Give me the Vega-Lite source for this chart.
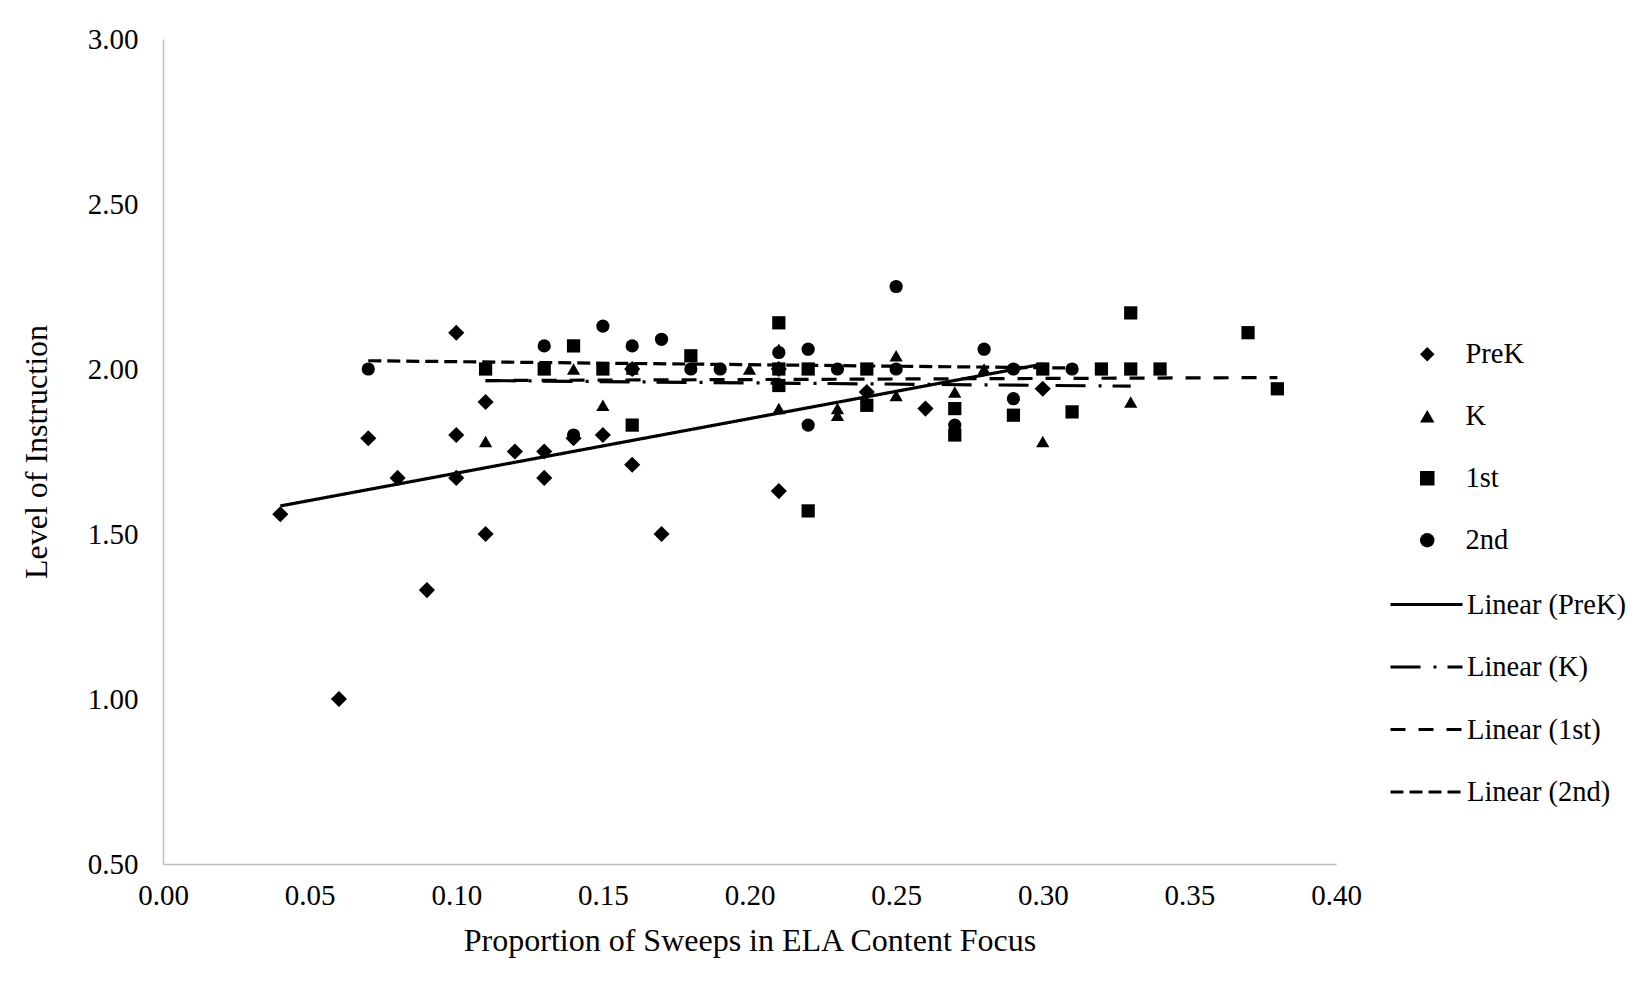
{
  "$schema": "https://vega.github.io/schema/vega-lite/v6.json",
  "width": 1173,
  "height": 825,
  "autosize": "none",
  "padding": {"left": 163, "top": 39, "right": 312, "bottom": 122},
  "background": "white",
  "config": {
    "view": {"stroke": null},
    "font": "Liberation Serif",
    "axis": {"grid": false, "ticks": false, "domainColor": "#BFBFBF", "domainWidth": 1.5, "labelFont": "Liberation Serif", "titleFont": "Liberation Serif", "labelColor": "black", "titleColor": "black", "labelFontSize": 29, "titleFontSize": 32, "titleFontWeight": "normal"}
  },
  "datasets": {
    "pts": [
      {"grade": "PreK", "x": 0.04, "y": 1.56},
      {"grade": "PreK", "x": 0.06, "y": 1.00},
      {"grade": "PreK", "x": 0.07, "y": 1.79},
      {"grade": "PreK", "x": 0.08, "y": 1.67},
      {"grade": "PreK", "x": 0.09, "y": 1.33},
      {"grade": "PreK", "x": 0.10, "y": 2.11},
      {"grade": "PreK", "x": 0.10, "y": 1.80},
      {"grade": "PreK", "x": 0.10, "y": 1.67},
      {"grade": "PreK", "x": 0.11, "y": 1.90},
      {"grade": "PreK", "x": 0.11, "y": 1.50},
      {"grade": "PreK", "x": 0.12, "y": 1.75},
      {"grade": "PreK", "x": 0.13, "y": 1.75},
      {"grade": "PreK", "x": 0.13, "y": 1.67},
      {"grade": "PreK", "x": 0.14, "y": 1.79},
      {"grade": "PreK", "x": 0.15, "y": 1.80},
      {"grade": "PreK", "x": 0.16, "y": 1.71},
      {"grade": "PreK", "x": 0.16, "y": 2.00},
      {"grade": "PreK", "x": 0.17, "y": 1.50},
      {"grade": "PreK", "x": 0.21, "y": 1.63},
      {"grade": "PreK", "x": 0.21, "y": 2.00},
      {"grade": "PreK", "x": 0.24, "y": 1.93},
      {"grade": "PreK", "x": 0.26, "y": 1.88},
      {"grade": "PreK", "x": 0.30, "y": 1.94},
      {"grade": "K", "x": 0.11, "y": 1.78},
      {"grade": "K", "x": 0.14, "y": 2.00},
      {"grade": "K", "x": 0.15, "y": 1.89},
      {"grade": "K", "x": 0.16, "y": 2.00},
      {"grade": "K", "x": 0.20, "y": 2.00},
      {"grade": "K", "x": 0.21, "y": 1.88},
      {"grade": "K", "x": 0.21, "y": 2.06},
      {"grade": "K", "x": 0.23, "y": 1.88},
      {"grade": "K", "x": 0.23, "y": 1.86},
      {"grade": "K", "x": 0.25, "y": 2.04},
      {"grade": "K", "x": 0.25, "y": 1.92},
      {"grade": "K", "x": 0.27, "y": 1.93},
      {"grade": "K", "x": 0.28, "y": 2.00},
      {"grade": "K", "x": 0.30, "y": 1.78},
      {"grade": "K", "x": 0.33, "y": 1.90},
      {"grade": "1st", "x": 0.11, "y": 2.00},
      {"grade": "1st", "x": 0.13, "y": 2.00},
      {"grade": "1st", "x": 0.14, "y": 2.07},
      {"grade": "1st", "x": 0.15, "y": 2.00},
      {"grade": "1st", "x": 0.16, "y": 1.83},
      {"grade": "1st", "x": 0.18, "y": 2.04},
      {"grade": "1st", "x": 0.21, "y": 2.14},
      {"grade": "1st", "x": 0.21, "y": 2.00},
      {"grade": "1st", "x": 0.21, "y": 1.95},
      {"grade": "1st", "x": 0.22, "y": 1.57},
      {"grade": "1st", "x": 0.22, "y": 2.00},
      {"grade": "1st", "x": 0.24, "y": 2.00},
      {"grade": "1st", "x": 0.24, "y": 1.89},
      {"grade": "1st", "x": 0.27, "y": 1.88},
      {"grade": "1st", "x": 0.27, "y": 1.80},
      {"grade": "1st", "x": 0.29, "y": 1.86},
      {"grade": "1st", "x": 0.30, "y": 2.00},
      {"grade": "1st", "x": 0.31, "y": 1.87},
      {"grade": "1st", "x": 0.32, "y": 2.00},
      {"grade": "1st", "x": 0.33, "y": 2.17},
      {"grade": "1st", "x": 0.33, "y": 2.00},
      {"grade": "1st", "x": 0.34, "y": 2.00},
      {"grade": "1st", "x": 0.37, "y": 2.11},
      {"grade": "1st", "x": 0.38, "y": 1.94},
      {"grade": "2nd", "x": 0.07, "y": 2.00},
      {"grade": "2nd", "x": 0.13, "y": 2.07},
      {"grade": "2nd", "x": 0.14, "y": 1.80},
      {"grade": "2nd", "x": 0.15, "y": 2.13},
      {"grade": "2nd", "x": 0.16, "y": 2.07},
      {"grade": "2nd", "x": 0.16, "y": 2.00},
      {"grade": "2nd", "x": 0.17, "y": 2.09},
      {"grade": "2nd", "x": 0.18, "y": 2.00},
      {"grade": "2nd", "x": 0.19, "y": 2.00},
      {"grade": "2nd", "x": 0.21, "y": 2.05},
      {"grade": "2nd", "x": 0.22, "y": 2.06},
      {"grade": "2nd", "x": 0.22, "y": 1.83},
      {"grade": "2nd", "x": 0.23, "y": 2.00},
      {"grade": "2nd", "x": 0.25, "y": 2.25},
      {"grade": "2nd", "x": 0.25, "y": 2.00},
      {"grade": "2nd", "x": 0.27, "y": 1.83},
      {"grade": "2nd", "x": 0.28, "y": 2.06},
      {"grade": "2nd", "x": 0.29, "y": 2.00},
      {"grade": "2nd", "x": 0.29, "y": 1.91},
      {"grade": "2nd", "x": 0.31, "y": 2.00}
    ],
    "trends": [
      {"trend": "Linear (PreK)", "x": 0.04, "y": 1.585},
      {"trend": "Linear (PreK)", "x": 0.30, "y": 2.015},
      {"trend": "Linear (K)", "x": 0.11, "y": 1.965},
      {"trend": "Linear (K)", "x": 0.33, "y": 1.948},
      {"trend": "Linear (1st)", "x": 0.11, "y": 1.965},
      {"trend": "Linear (1st)", "x": 0.38, "y": 1.974},
      {"trend": "Linear (2nd)", "x": 0.07, "y": 2.025},
      {"trend": "Linear (2nd)", "x": 0.31, "y": 2.003}
    ]
  },
  "layer": [
    {
      "data": {"name": "pts"},
      "mark": {"type": "point", "filled": true, "opacity": 1, "color": "black"},
      "encoding": {
        "x": {"field": "x", "type": "quantitative", "scale": {"domain": [0, 0.4], "nice": false, "zero": false},
              "axis": {"values": [0, 0.05, 0.1, 0.15, 0.2, 0.25, 0.3, 0.35, 0.4], "format": ".2f", "labelPadding": 17, "title": "Proportion of Sweeps in ELA Content Focus", "titlePadding": 15, "labelFlush": false}},
        "y": {"field": "y", "type": "quantitative", "scale": {"domain": [0.5, 3], "nice": false, "zero": false},
              "axis": {"values": [0.5, 1, 1.5, 2, 2.5, 3], "format": ".2f", "labelPadding": 25, "title": "Level of Instruction", "titlePadding": 34}},
        "size": {"condition": {"test": "datum.grade === 'PreK'", "value": 260}, "value": 175},
        "shape": {"field": "grade", "type": "nominal",
                  "scale": {"domain": ["PreK", "K", "1st", "2nd"], "range": ["diamond", "triangle-up", "square", "circle"]},
                  "legend": {"title": null, "orient": "none", "legendX": 1250, "legendY": 301, "labelFont": "Liberation Serif", "labelFontSize": 28.5, "labelColor": "black", "symbolFillColor": "black", "symbolStrokeColor": "black", "symbolSize": 210, "rowPadding": 33, "labelOffset": 24, "padding": 0}}
      }
    },
    {
      "data": {"name": "trends"},
      "mark": {"type": "line", "color": "black", "strokeWidth": 3.2},
      "encoding": {
        "x": {"field": "x", "type": "quantitative"},
        "y": {"field": "y", "type": "quantitative"},
        "detail": {"field": "trend"},
        "strokeDash": {"field": "trend", "type": "nominal",
                       "scale": {"domain": ["Linear (PreK)", "Linear (K)", "Linear (1st)", "Linear (2nd)"], "range": [[1, 0], [30, 13, 3, 11], [15, 13], [13, 6]]},
                       "legend": {"title": null, "orient": "none", "legendX": 1226, "legendY": 528, "labelFont": "Liberation Serif", "labelFontSize": 28.5, "labelColor": "black", "symbolType": "stroke", "symbolSize": 5184, "symbolStrokeWidth": 3, "symbolStrokeColor": "black", "rowPadding": 10.5, "labelOffset": 3, "padding": 0}}
      }
    }
  ]
}
